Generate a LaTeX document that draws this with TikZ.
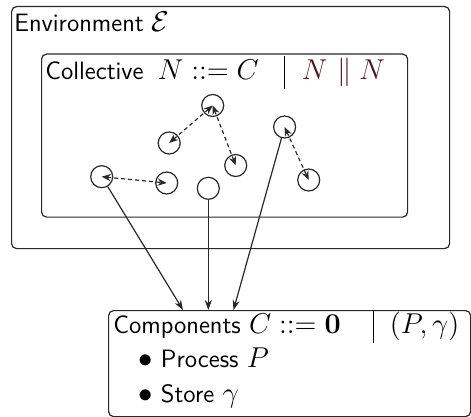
\documentclass[tikz,border=0pt]{standalone}
\usetikzlibrary{arrows.meta}
\definecolor{edgegray}{RGB}{40,40,40}
\definecolor{parcolor}{RGB}{85,20,20}
% formulas are set a little larger than the surrounding sans text
\newcommand\mth[1]{{\fontsize{14.4}{17}\selectfont$#1$}}
% tall separator bar used in the grammar lines
\newcommand\grambar{\vcenter{\hbox{\rule{0.55pt}{16.5bp}}}}
\begin{document}
\begin{tikzpicture}[x=0.5bp,y=-0.5bp,
  box/.style={draw=edgegray, line width=0.6pt, rounded corners=2.5bp,
    inner sep=0pt, anchor=north west},
  agent/.style={circle, draw=edgegray, line width=0.6pt, minimum size=11bp, inner sep=0pt},
  label/.style={anchor=base west, inner sep=0pt, font=\sffamily\fontsize{12.6}{15}\selectfont},
  msg/.style={draw=edgegray, line width=0.6pt, dash pattern=on 2bp off 1.5bp,
    {Stealth[length=4.5bp,width=3.6bp]}-{Stealth[length=4.5bp,width=3.6bp]}},
  feed/.style={draw=edgegray, line width=0.6pt, -{Stealth[length=5bp,width=3.6bp]}}]
  \useasboundingbox (0,0) rectangle (471,417);

  % environment and collective boxes
  \node[box, minimum width=219bp, minimum height=121bp] (env) at (11,6) {};
  \node[box, minimum width=183bp, minimum height=81.5bp] (coll) at (41,53.5) {};
  \node[label] (envlabel) at (14,31.7) {Environment \mth{\mathcal{E}}};
  \node[label] (colllabel) at (45,80)
    {Collective\hspace{3bp} \mth{N ::= C \hspace{12.5bp}\grambar\hspace{8.5bp}
      \textcolor{parcolor}{N \mskip1mu\parallel N}}};

  % components box
  \node[box, minimum width=181bp, minimum height=53bp] (comp) at (108,310) {};
  \node[label] (complabel) at (113,333.5)
    {Components \mth{C ::= \mathbf{0} \hspace{16bp}\grambar\hspace{8bp} (P,\gamma)}};
  \node[label] (proc) at (138,367) {\mth{\bullet} Process \mth{P}};
  \node[label] (store) at (138,402) {\mth{\bullet} Store \mth{\gamma}};

  % agents
  \node[agent] (a1) at (212.7,105.5) {};
  \node[agent] (a2) at (169.2,143) {};
  \node[agent] (a3) at (235.7,165.5) {};
  \node[agent] (a4) at (284.6,127) {};
  \node[agent] (a5) at (308.7,180) {};
  \node[agent] (a6) at (101.7,176.7) {};
  \node[agent] (a7) at (166.7,183) {};
  \node[agent] (a8) at (208.3,188.3) {};

  % interactions inside the collective
  \path[msg] (a1.center) -- (a2.center);
  \path[msg] (a1.center) -- (a3.center);
  \path[msg] (a4.center) -- (a5.center);
  \path[msg] (a6.center) -- (a7.center);

  % links to the component description
  \coordinate (ta) at (183,310);
  \coordinate (tb) at (208.3,310);
  \coordinate (tc) at (233.5,310);
  \path[feed] (a6) -- (ta);
  \path[feed] (a8) -- (tb);
  \path[feed] (a4) -- (tc);
\end{tikzpicture}
\end{document}
